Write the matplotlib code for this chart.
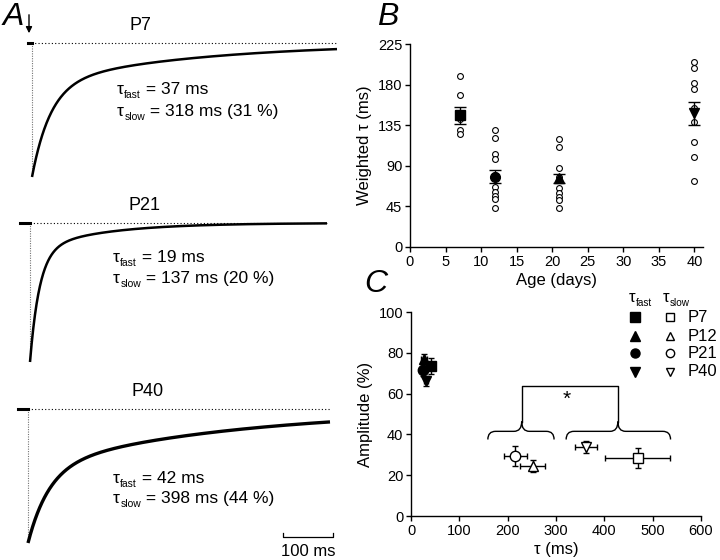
import matplotlib.pyplot as plt
import numpy as np
from matplotlib.path import Path
from matplotlib.patches import PathPatch

plt.rcParams['font.family'] = ['Liberation Sans', 'DejaVu Sans']
plt.rcParams['mathtext.fontset'] = 'custom'
plt.rcParams['mathtext.rm'] = 'Liberation Sans'

# --- Panel A: example currents (biexponential fits as printed) ---
trace_names = ['P7', 'P21', 'P40']
tau_fast = [37, 19, 42]        # ms
tau_slow = [318, 137, 398]     # ms
slow_pct = [31, 20, 44]        # % slow component
trace_end = [610, 594, 604]    # ms
trace_pre = [-8, -20, -20]     # ms before onset

# --- Panel B: weighted tau vs age ---
ages = [7, 12, 21, 40]
tau_mean = [146, 78, 76, 148]
tau_sem = [9.5, 7, 5, 13]
mean_markers = ['s', 'o', '^', 'v']
tau_cells = [
    [189, 168, 142, 130, 125],
    [130, 121, 103, 97, 80, 66, 61, 56, 53, 43],
    [120, 111, 88, 78, 74, 65, 60, 55, 52, 43],
    [205, 198, 182, 175, 154, 139, 116, 100, 73],
]

# --- Panel C: amplitude vs tau ---
groups = ['P7', 'P12', 'P21', 'P40']
group_markers = ['s', '^', 'o', 'v']
fast_tau = [41, 27, 24, 31]
fast_tau_err = [8, 6, 5, 5]
fast_amp = [73.5, 77, 71.5, 66]
fast_amp_err = [4, 2.5, 3, 2.5]
slow_tau = [469, 252, 216, 362]
slow_tau_err = [67, 26, 24, 23]
slow_amp = [28.5, 24.5, 29.5, 34]
slow_amp_err = [5, 3, 5, 3]

fig = plt.figure(figsize=(7.2, 5.6), dpi=100)
W, H = 720, 560


def ftxt(x, y, s, **kw):
    fig.text(x / W, 1 - y / H, s, **kw)


def tau_label(x, y, sub, rest, size):
    # tau with a small, low subscript, then the rest of the line
    t1 = fig.text(x / W, 1 - y / H, 'τ', fontsize=size, va='baseline')
    fig.canvas.draw()
    bb = t1.get_window_extent()
    t2 = fig.text(bb.x1 / W + 0.5 / W, 1 - (y + 4) / H, sub, fontsize=size * 0.6, va='baseline')
    bb2 = t2.get_window_extent()
    if rest:
        fig.text(bb2.x1 / W, 1 - y / H, rest, fontsize=size, va='baseline')


# panel A axes, one per trace (pixel boxes)
boxes = [(0, 190, 43, 177, 32), (190, 375, 223, 362, 30), (375, 560, 409, 543, 28)]
axA = []
for i, (top, bottom, base, peak, onset) in enumerate(boxes):
    ax = fig.add_axes([0, 1 - bottom / H, 0.5, (bottom - top) / H])
    s = peak - base
    ax.set_ylim(-1 - (bottom - peak) / s, (base - top) / s)
    ax.set_xlim(-2 * onset, -2 * onset + 720)
    ax.axis('off')
    t = np.linspace(0, trace_end[i], 900)
    a_s = slow_pct[i] / 100
    y = -((1 - a_s) * np.exp(-t / tau_fast[i]) + a_s * np.exp(-t / tau_slow[i]))
    ax.plot([trace_pre[i], trace_end[i]], [0, 0], color='black', lw=0.8, ls=(0, (1, 2)))
    ax.plot([0, 0], [0, -1], color='0.45', lw=0.8, ls=(0, (1, 1.2)))
    ax.plot([trace_pre[i], 0], [0, 0], color='black', lw=2.2)
    ax.plot(t, y, color='black', lw=1.8 if i < 2 else 2.4, solid_capstyle='butt')
    axA.append(ax)

# scale bar 100 ms
axA[2].plot([510, 510, 610, 610], [-0.925, -0.955, -0.955, -0.925], color='black', lw=0.9)
ftxt(308, 551, '100 ms', ha='center', va='center', fontsize=12)

label_pos = [(140, 25), (145, 206), (148, 392)]
tau_txt_pos = [(117, 94, 116), (113, 262, 283), (113, 483, 503)]
for i in range(3):
    ftxt(*label_pos[i], trace_names[i], ha='center', va='center', fontsize=13)
    x, y1, y2 = tau_txt_pos[i]
    tau_label(x, y1, 'fast', f' = {tau_fast[i]} ms', 12.5)
    tau_label(x, y2, 'slow', f' = {tau_slow[i]} ms ({slow_pct[i]} %)', 12.5)

# stimulus arrow and panel letters
axA[0].annotate('', xy=(29 / W, 1 - 36 / H), xytext=(29 / W, 1 - 12 / H),
                xycoords='figure fraction', textcoords='figure fraction',
                arrowprops=dict(arrowstyle='-|>', color='black', lw=1, mutation_scale=9))
ftxt(13, 17, 'A', fontsize=23, style='italic', ha='center', va='center')
ftxt(388, 17, 'B', fontsize=23, style='italic', ha='center', va='center')
ftxt(376, 284, 'C', fontsize=23, style='italic', ha='center', va='center')


def style_axes(ax):
    for sp in ['top', 'right']:
        ax.spines[sp].set_visible(False)
    for sp in ['left', 'bottom']:
        ax.spines[sp].set_linewidth(1)
    ax.tick_params(direction='out', length=3.5, width=1, labelsize=10.5, pad=2)


# --- Panel B ---
axB = fig.add_axes([410 / W, 1 - 247 / H, (703 - 410) / W, (247 - 44) / H])
for age, vals in zip(ages, tau_cells):
    axB.plot([age] * len(vals), vals, 'o', mfc='white', mec='black', ms=4.2, mew=0.8, zorder=2)
for i in range(4):
    axB.errorbar(ages[i], tau_mean[i], yerr=tau_sem[i], marker=mean_markers[i], ms=7,
                 color='black', capsize=4, elinewidth=1, capthick=1, zorder=3)
axB.set_xlim(0, 41.2)
axB.set_ylim(0, 225)
axB.set_xticks(np.arange(0, 41, 5))
axB.set_yticks(np.arange(0, 226, 45))
axB.set_xlabel('Age (days)', fontsize=12, labelpad=3)
axB.set_ylabel('Weighted τ (ms)', fontsize=12, labelpad=4)
style_axes(axB)

# --- Panel C ---
axC = fig.add_axes([411 / W, 1 - 516 / H, 290 / W, 204 / H])
for i in range(4):
    axC.errorbar(fast_tau[i], fast_amp[i], xerr=fast_tau_err[i], yerr=fast_amp_err[i],
                 marker=group_markers[i], ms=7.5, color='black', capsize=2.5,
                 elinewidth=1, capthick=1)
    axC.errorbar(slow_tau[i], slow_amp[i], xerr=slow_tau_err[i], yerr=slow_amp_err[i],
                 marker=group_markers[i], ms=7.5, mfc='white', mec='black', mew=1,
                 color='black', capsize=2.5, elinewidth=1, capthick=1)


def brace(ax, x0, x1, xm, yb, yh, yt):
    r = 16
    verts = [(x0, yb), (x0, yh), (x0 + r, yh), (xm - r, yh), (xm, yh), (xm, yt),
             (xm, yh), (xm + r, yh), (x1 - r, yh), (x1, yh), (x1, yb)]
    codes = [Path.MOVETO, Path.CURVE3, Path.CURVE3, Path.LINETO, Path.CURVE3, Path.CURVE3,
             Path.CURVE3, Path.CURVE3, Path.LINETO, Path.CURVE3, Path.CURVE3]
    ax.add_patch(PathPatch(Path(verts, codes), fc='none', ec='black', lw=1))


brace(axC, 159, 296, 229, 37.5, 41.5, 46.3)
brace(axC, 321, 537, 428, 37.5, 41.5, 46.3)
axC.plot([229, 229, 428, 428], [46.3, 63.5, 63.5, 46.3], color='black', lw=1)
axC.text(323, 57, '*', ha='center', va='center', fontsize=15)

axC.set_xlim(0, 600)
axC.set_ylim(0, 100)
axC.set_xticks(np.arange(0, 601, 100))
axC.set_yticks(np.arange(0, 101, 20))
axC.set_xlabel('τ (ms)', fontsize=12, labelpad=3)
axC.set_ylabel('Amplitude (%)', fontsize=12, labelpad=4)
style_axes(axC)

# manual legend
leg_y = [97.5, 88.2, 79.9, 70.6]
for i in range(4):
    axC.plot(463, leg_y[i], group_markers[i], ms=6.5, color='black', clip_on=False)
    axC.plot(536, leg_y[i], group_markers[i], ms=6, mfc='white', mec='black', mew=1,
             clip_on=False)
    axC.text(573, leg_y[i], groups[i], va='center', fontsize=12)
tau_label(629, 302, 'fast', '', 12)
tau_label(663, 302, 'slow', '', 12)

fig.savefig('out.png', dpi=100)
